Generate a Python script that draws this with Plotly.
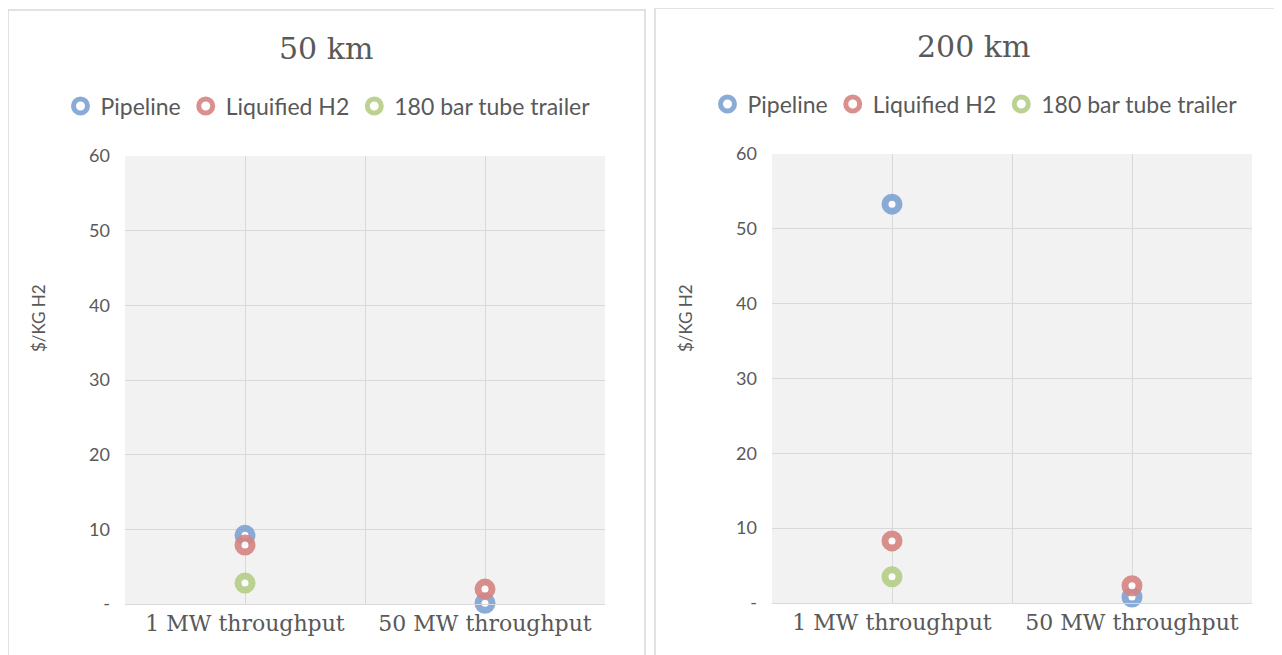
import plotly.graph_objects as go

categories = ["1 MW throughput", "50 MW throughput"]
cat_pos = [0, 1]
series_names = ["Pipeline", "Liquified H2", "180 bar tube trailer"]
colors = ["#7FA3D3", "#D68582", "#B4CE85"]

# 50 km panel
km50_pipeline = [9.2, 0.1]
km50_liquified = [7.9, 2.0]
km50_tube = [2.8, None]

# 200 km panel
km200_pipeline = [53.3, 0.8]
km200_liquified = [8.3, 2.3]
km200_tube = [3.5, None]

yticks = [0, 10, 20, 30, 40, 50, 60]
yticktext = ["-", "10", "20", "30", "40", "50", "60"]

OFF = 8  # page body margin
W, H = 1282 - 2 * OFF, 655 - OFF
fig = go.Figure()

panels = [
    ("x", "y", "legend", [km50_pipeline, km50_liquified, km50_tube]),
    ("x2", "y2", "legend2", [km200_pipeline, km200_liquified, km200_tube]),
]
for xa, ya, lg, data in panels:
    for name, col, vals in zip(series_names, colors, data):
        fig.add_trace(go.Scatter(
            x=cat_pos, y=vals, name=name, mode="markers",
            xaxis=xa, yaxis=ya, legend=lg,
            marker=dict(symbol="circle", size=14, color="white",
                        line=dict(color=col, width=7), opacity=0.9),
            cliponaxis=False,
        ))

sans = "Lato, Noto Sans, sans-serif"
serif = "DejaVu Serif, serif"

xcommon = dict(range=[-0.5, 1.5], tickvals=[-0.5, 0, 0.5, 1, 1.5],
               ticktext=["", categories[0], "", categories[1], ""],
               showgrid=True, gridcolor="#D9D9D9", gridwidth=1, zeroline=False,
               showline=True, linecolor="#D9D9D9", ticks="", fixedrange=True,
               tickfont=dict(family=serif, size=22, color="#595959"), automargin=False)
ycommon = dict(range=[0, 60], tickvals=yticks, ticktext=yticktext,
               showgrid=True, gridcolor="#D9D9D9", gridwidth=1, zeroline=False,
               showline=False, ticks="", automargin=False, ticklabelstandoff=14,
               tickfont=dict(family=sans, size=18, color="#595959"))

def px_x(p):
    return (p - OFF) / W

def px_y(p):
    return 1 - (p - OFF) / H

fig.update_layout(
    width=W, height=H,
    margin=dict(l=0, r=0, t=0, b=0),
    paper_bgcolor="white", plot_bgcolor="#F2F2F2",
    showlegend=True,
    xaxis=dict(domain=[px_x(125), px_x(605)], anchor="y", **xcommon),
    yaxis=dict(domain=[px_y(604), px_y(156)], anchor="x", **ycommon),
    xaxis2=dict(domain=[px_x(772), px_x(1252)], anchor="y2", **xcommon),
    yaxis2=dict(domain=[px_y(603), px_y(154)], anchor="x2", **ycommon),
    legend=dict(orientation="h", x=px_x(328), xanchor="center", y=px_y(106), yanchor="middle",
                font=dict(family=sans, size=23, color="#595959"), bgcolor="rgba(0,0,0,0)",
                itemwidth=30, tracegroupgap=0),
    legend2=dict(orientation="h", x=px_x(975), xanchor="center", y=px_y(104), yanchor="middle",
                 font=dict(family=sans, size=23, color="#595959"), bgcolor="rgba(0,0,0,0)",
                 itemwidth=30, tracegroupgap=0),
    annotations=[
        dict(text="50 km", x=px_x(326), y=px_y(48), xref="paper", yref="paper",
             xanchor="center", yanchor="middle",
             showarrow=False, font=dict(family=serif, size=30, color="#595959")),
        dict(text="200 km", x=px_x(973), y=px_y(47), xref="paper", yref="paper",
             xanchor="center", yanchor="middle",
             showarrow=False, font=dict(family=serif, size=30, color="#595959")),
        dict(text="$/KG H2", x=px_x(38), y=px_y(318), xref="paper", yref="paper",
             xanchor="center", yanchor="middle", textangle=-90,
             showarrow=False, font=dict(family=sans, size=17, color="#595959")),
        dict(text="$/KG H2", x=px_x(685), y=px_y(318), xref="paper", yref="paper",
             xanchor="center", yanchor="middle", textangle=-90,
             showarrow=False, font=dict(family=sans, size=17, color="#595959")),
    ],
    shapes=[
        dict(type="rect", xref="paper", yref="paper", x0=px_x(8), x1=px_x(645), y0=px_y(662), y1=px_y(10),
             line=dict(color="#D9D9D9", width=1.5), layer="below"),
        dict(type="rect", xref="paper", yref="paper", x0=px_x(655), x1=px_x(1285), y0=px_y(662), y1=px_y(8),
             line=dict(color="#D9D9D9", width=1.5), layer="below"),
    ],
)

fig.write_html("out.html")
